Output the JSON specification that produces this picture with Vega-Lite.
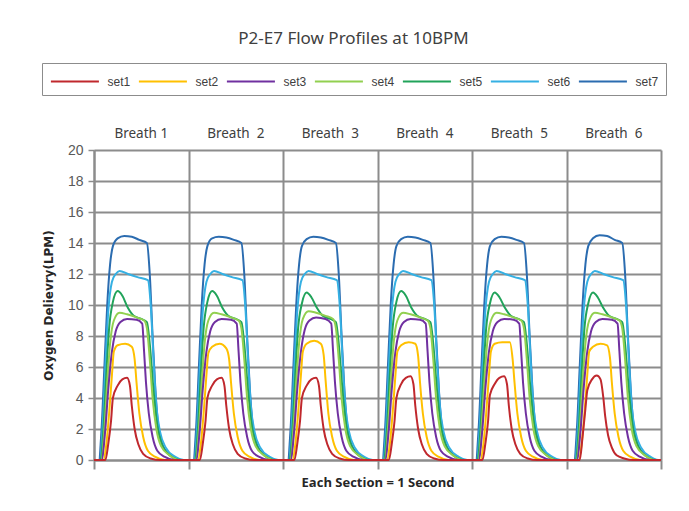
{
  "$schema": "https://vega.github.io/schema/vega-lite/v6.json",
  "width": 567,
  "height": 310,
  "autosize": {"type": "none"},
  "padding": {"left": 94, "top": 150, "right": 28, "bottom": 51},
  "background": "white",
  "config": {"view": {"stroke": null}},
  "title": {
    "text": "P2-E7 Flow Profiles at 10BPM",
    "font": "Noto Sans",
    "fontSize": 17,
    "fontWeight": "normal",
    "color": "#404040",
    "anchor": "middle",
    "dx": -24,
    "offset": 15
  },
  "datasets": {
    "breaths": [
      {"x": 0.5, "label": "Breath 1"},
      {"x": 1.5, "label": "Breath\u00a0 2"},
      {"x": 2.5, "label": "Breath\u00a0 3"},
      {"x": 3.5, "label": "Breath\u00a0 4"},
      {"x": 4.5, "label": "Breath\u00a0 5"},
      {"x": 5.5, "label": "Breath\u00a0 6"}
    ],
    "flow": [
      {"s":"set7","x":0,"v":0},
      {"s":"set7","x":0.05,"v":0},{"s":"set7","x":0.08,"v":2},{"s":"set7","x":0.11,"v":6},{"s":"set7","x":0.14,"v":10},{"s":"set7","x":0.17,"v":12.6},{"s":"set7","x":0.2,"v":13.8},{"s":"set7","x":0.25,"v":14.3},{"s":"set7","x":0.32,"v":14.45},{"s":"set7","x":0.4,"v":14.4},{"s":"set7","x":0.48,"v":14.2},{"s":"set7","x":0.56,"v":14},{"s":"set7","x":0.59,"v":12},{"s":"set7","x":0.62,"v":8},{"s":"set7","x":0.65,"v":4.5},{"s":"set7","x":0.68,"v":2.2},{"s":"set7","x":0.73,"v":0.9},{"s":"set7","x":0.81,"v":0.3},{"s":"set7","x":0.92,"v":0},
      {"s":"set7","x":1.05,"v":0},{"s":"set7","x":1.08,"v":2},{"s":"set7","x":1.11,"v":6},{"s":"set7","x":1.14,"v":10},{"s":"set7","x":1.17,"v":12.6},{"s":"set7","x":1.2,"v":13.8},{"s":"set7","x":1.25,"v":14.3},{"s":"set7","x":1.32,"v":14.4},{"s":"set7","x":1.4,"v":14.35},{"s":"set7","x":1.48,"v":14.2},{"s":"set7","x":1.56,"v":14},{"s":"set7","x":1.59,"v":12},{"s":"set7","x":1.62,"v":8},{"s":"set7","x":1.65,"v":4.5},{"s":"set7","x":1.68,"v":2.2},{"s":"set7","x":1.73,"v":0.9},{"s":"set7","x":1.81,"v":0.3},{"s":"set7","x":1.92,"v":0},
      {"s":"set7","x":2.05,"v":0},{"s":"set7","x":2.08,"v":2},{"s":"set7","x":2.11,"v":6},{"s":"set7","x":2.14,"v":10},{"s":"set7","x":2.17,"v":12.6},{"s":"set7","x":2.2,"v":13.8},{"s":"set7","x":2.25,"v":14.25},{"s":"set7","x":2.32,"v":14.4},{"s":"set7","x":2.4,"v":14.35},{"s":"set7","x":2.48,"v":14.2},{"s":"set7","x":2.56,"v":14},{"s":"set7","x":2.59,"v":12},{"s":"set7","x":2.62,"v":8},{"s":"set7","x":2.65,"v":4.5},{"s":"set7","x":2.68,"v":2.2},{"s":"set7","x":2.73,"v":0.9},{"s":"set7","x":2.81,"v":0.3},{"s":"set7","x":2.92,"v":0},
      {"s":"set7","x":3.05,"v":0},{"s":"set7","x":3.08,"v":2},{"s":"set7","x":3.11,"v":6},{"s":"set7","x":3.14,"v":10},{"s":"set7","x":3.17,"v":12.6},{"s":"set7","x":3.2,"v":13.8},{"s":"set7","x":3.25,"v":14.25},{"s":"set7","x":3.32,"v":14.4},{"s":"set7","x":3.4,"v":14.35},{"s":"set7","x":3.48,"v":14.2},{"s":"set7","x":3.56,"v":14},{"s":"set7","x":3.59,"v":12},{"s":"set7","x":3.62,"v":8},{"s":"set7","x":3.65,"v":4.5},{"s":"set7","x":3.68,"v":2.2},{"s":"set7","x":3.73,"v":0.9},{"s":"set7","x":3.81,"v":0.3},{"s":"set7","x":3.92,"v":0},
      {"s":"set7","x":4.04,"v":0},{"s":"set7","x":4.07,"v":2},{"s":"set7","x":4.1,"v":6},{"s":"set7","x":4.13,"v":10},{"s":"set7","x":4.16,"v":12.6},{"s":"set7","x":4.19,"v":13.8},{"s":"set7","x":4.24,"v":14.25},{"s":"set7","x":4.31,"v":14.4},{"s":"set7","x":4.39,"v":14.35},{"s":"set7","x":4.47,"v":14.2},{"s":"set7","x":4.55,"v":14},{"s":"set7","x":4.58,"v":12},{"s":"set7","x":4.61,"v":8},{"s":"set7","x":4.64,"v":4.5},{"s":"set7","x":4.67,"v":2.2},{"s":"set7","x":4.72,"v":0.9},{"s":"set7","x":4.8,"v":0.3},{"s":"set7","x":4.91,"v":0},
      {"s":"set7","x":5.08,"v":0},{"s":"set7","x":5.11,"v":2},{"s":"set7","x":5.14,"v":6},{"s":"set7","x":5.17,"v":10},{"s":"set7","x":5.2,"v":12.6},{"s":"set7","x":5.23,"v":13.8},{"s":"set7","x":5.28,"v":14.3},{"s":"set7","x":5.35,"v":14.5},{"s":"set7","x":5.43,"v":14.45},{"s":"set7","x":5.51,"v":14.2},{"s":"set7","x":5.59,"v":14},{"s":"set7","x":5.62,"v":12},{"s":"set7","x":5.65,"v":8},{"s":"set7","x":5.68,"v":4.5},{"s":"set7","x":5.71,"v":2.2},{"s":"set7","x":5.76,"v":0.9},{"s":"set7","x":5.84,"v":0.3},{"s":"set7","x":5.95,"v":0},
      {"s":"set7","x":6,"v":0},

      {"s":"set6","x":0,"v":0},
      {"s":"set6","x":0.06,"v":0},{"s":"set6","x":0.09,"v":2},{"s":"set6","x":0.12,"v":6},{"s":"set6","x":0.15,"v":9.5},{"s":"set6","x":0.19,"v":11.5},{"s":"set6","x":0.23,"v":12},{"s":"set6","x":0.27,"v":12.2},{"s":"set6","x":0.36,"v":12},{"s":"set6","x":0.46,"v":11.8},{"s":"set6","x":0.57,"v":11.6},{"s":"set6","x":0.6,"v":10},{"s":"set6","x":0.63,"v":6.5},{"s":"set6","x":0.66,"v":3.5},{"s":"set6","x":0.7,"v":1.8},{"s":"set6","x":0.76,"v":0.8},{"s":"set6","x":0.86,"v":0.2},{"s":"set6","x":0.95,"v":0},
      {"s":"set6","x":1.06,"v":0},{"s":"set6","x":1.09,"v":2},{"s":"set6","x":1.12,"v":6},{"s":"set6","x":1.15,"v":9.5},{"s":"set6","x":1.19,"v":11.5},{"s":"set6","x":1.23,"v":12},{"s":"set6","x":1.27,"v":12.2},{"s":"set6","x":1.36,"v":12},{"s":"set6","x":1.46,"v":11.8},{"s":"set6","x":1.57,"v":11.6},{"s":"set6","x":1.6,"v":10},{"s":"set6","x":1.63,"v":6.5},{"s":"set6","x":1.66,"v":3.5},{"s":"set6","x":1.7,"v":1.8},{"s":"set6","x":1.76,"v":0.8},{"s":"set6","x":1.86,"v":0.2},{"s":"set6","x":1.95,"v":0},
      {"s":"set6","x":2.06,"v":0},{"s":"set6","x":2.09,"v":2},{"s":"set6","x":2.12,"v":6},{"s":"set6","x":2.15,"v":9.5},{"s":"set6","x":2.19,"v":11.5},{"s":"set6","x":2.23,"v":12},{"s":"set6","x":2.27,"v":12.2},{"s":"set6","x":2.36,"v":12},{"s":"set6","x":2.46,"v":11.8},{"s":"set6","x":2.57,"v":11.6},{"s":"set6","x":2.6,"v":10},{"s":"set6","x":2.63,"v":6.5},{"s":"set6","x":2.66,"v":3.5},{"s":"set6","x":2.7,"v":1.8},{"s":"set6","x":2.76,"v":0.8},{"s":"set6","x":2.86,"v":0.2},{"s":"set6","x":2.95,"v":0},
      {"s":"set6","x":3.06,"v":0},{"s":"set6","x":3.09,"v":2},{"s":"set6","x":3.12,"v":6},{"s":"set6","x":3.15,"v":9.5},{"s":"set6","x":3.19,"v":11.5},{"s":"set6","x":3.23,"v":12},{"s":"set6","x":3.27,"v":12.2},{"s":"set6","x":3.36,"v":12},{"s":"set6","x":3.46,"v":11.8},{"s":"set6","x":3.57,"v":11.6},{"s":"set6","x":3.6,"v":10},{"s":"set6","x":3.63,"v":6.5},{"s":"set6","x":3.66,"v":3.5},{"s":"set6","x":3.7,"v":1.8},{"s":"set6","x":3.76,"v":0.8},{"s":"set6","x":3.86,"v":0.2},{"s":"set6","x":3.95,"v":0},
      {"s":"set6","x":4.05,"v":0},{"s":"set6","x":4.08,"v":2},{"s":"set6","x":4.11,"v":6},{"s":"set6","x":4.14,"v":9.5},{"s":"set6","x":4.18,"v":11.5},{"s":"set6","x":4.22,"v":12},{"s":"set6","x":4.26,"v":12.2},{"s":"set6","x":4.35,"v":12},{"s":"set6","x":4.45,"v":11.8},{"s":"set6","x":4.56,"v":11.6},{"s":"set6","x":4.59,"v":10},{"s":"set6","x":4.62,"v":6.5},{"s":"set6","x":4.65,"v":3.5},{"s":"set6","x":4.69,"v":1.8},{"s":"set6","x":4.75,"v":0.8},{"s":"set6","x":4.85,"v":0.2},{"s":"set6","x":4.94,"v":0},
      {"s":"set6","x":5.09,"v":0},{"s":"set6","x":5.12,"v":2},{"s":"set6","x":5.15,"v":6},{"s":"set6","x":5.18,"v":9.5},{"s":"set6","x":5.22,"v":11.5},{"s":"set6","x":5.26,"v":12},{"s":"set6","x":5.3,"v":12.2},{"s":"set6","x":5.39,"v":12},{"s":"set6","x":5.49,"v":11.8},{"s":"set6","x":5.6,"v":11.6},{"s":"set6","x":5.63,"v":10},{"s":"set6","x":5.66,"v":6.5},{"s":"set6","x":5.69,"v":3.5},{"s":"set6","x":5.73,"v":1.8},{"s":"set6","x":5.79,"v":0.8},{"s":"set6","x":5.89,"v":0.2},{"s":"set6","x":5.97,"v":0},
      {"s":"set6","x":6,"v":0},

      {"s":"set5","x":0,"v":0},
      {"s":"set5","x":0.07,"v":0},{"s":"set5","x":0.1,"v":2},{"s":"set5","x":0.13,"v":5.5},{"s":"set5","x":0.16,"v":8.5},{"s":"set5","x":0.2,"v":10.2},{"s":"set5","x":0.25,"v":10.9},{"s":"set5","x":0.3,"v":10.6},{"s":"set5","x":0.36,"v":9.8},{"s":"set5","x":0.42,"v":9.3},{"s":"set5","x":0.5,"v":9.1},{"s":"set5","x":0.56,"v":8.9},{"s":"set5","x":0.59,"v":7.5},{"s":"set5","x":0.63,"v":4.5},{"s":"set5","x":0.67,"v":2.2},{"s":"set5","x":0.72,"v":1},{"s":"set5","x":0.8,"v":0.3},{"s":"set5","x":0.92,"v":0},
      {"s":"set5","x":1.07,"v":0},{"s":"set5","x":1.1,"v":2},{"s":"set5","x":1.13,"v":5.5},{"s":"set5","x":1.16,"v":8.5},{"s":"set5","x":1.2,"v":10.2},{"s":"set5","x":1.25,"v":10.9},{"s":"set5","x":1.3,"v":10.6},{"s":"set5","x":1.36,"v":9.8},{"s":"set5","x":1.42,"v":9.3},{"s":"set5","x":1.5,"v":9.1},{"s":"set5","x":1.56,"v":8.9},{"s":"set5","x":1.59,"v":7.5},{"s":"set5","x":1.63,"v":4.5},{"s":"set5","x":1.67,"v":2.2},{"s":"set5","x":1.72,"v":1},{"s":"set5","x":1.8,"v":0.3},{"s":"set5","x":1.92,"v":0},
      {"s":"set5","x":2.07,"v":0},{"s":"set5","x":2.1,"v":2},{"s":"set5","x":2.13,"v":5.5},{"s":"set5","x":2.16,"v":8.5},{"s":"set5","x":2.2,"v":10.1},{"s":"set5","x":2.25,"v":10.8},{"s":"set5","x":2.3,"v":10.5},{"s":"set5","x":2.36,"v":9.8},{"s":"set5","x":2.42,"v":9.3},{"s":"set5","x":2.5,"v":9.1},{"s":"set5","x":2.56,"v":8.9},{"s":"set5","x":2.59,"v":7.5},{"s":"set5","x":2.63,"v":4.5},{"s":"set5","x":2.67,"v":2.2},{"s":"set5","x":2.72,"v":1},{"s":"set5","x":2.8,"v":0.3},{"s":"set5","x":2.92,"v":0},
      {"s":"set5","x":3.07,"v":0},{"s":"set5","x":3.1,"v":2},{"s":"set5","x":3.13,"v":5.5},{"s":"set5","x":3.16,"v":8.5},{"s":"set5","x":3.2,"v":10.2},{"s":"set5","x":3.25,"v":10.9},{"s":"set5","x":3.3,"v":10.6},{"s":"set5","x":3.36,"v":9.8},{"s":"set5","x":3.42,"v":9.3},{"s":"set5","x":3.5,"v":9.1},{"s":"set5","x":3.56,"v":8.9},{"s":"set5","x":3.59,"v":7.5},{"s":"set5","x":3.63,"v":4.5},{"s":"set5","x":3.67,"v":2.2},{"s":"set5","x":3.72,"v":1},{"s":"set5","x":3.8,"v":0.3},{"s":"set5","x":3.92,"v":0},
      {"s":"set5","x":4.06,"v":0},{"s":"set5","x":4.09,"v":2},{"s":"set5","x":4.12,"v":5.5},{"s":"set5","x":4.15,"v":8.5},{"s":"set5","x":4.19,"v":10.1},{"s":"set5","x":4.24,"v":10.8},{"s":"set5","x":4.29,"v":10.5},{"s":"set5","x":4.35,"v":9.8},{"s":"set5","x":4.41,"v":9.3},{"s":"set5","x":4.49,"v":9.1},{"s":"set5","x":4.55,"v":8.9},{"s":"set5","x":4.58,"v":7.5},{"s":"set5","x":4.62,"v":4.5},{"s":"set5","x":4.66,"v":2.2},{"s":"set5","x":4.71,"v":1},{"s":"set5","x":4.79,"v":0.3},{"s":"set5","x":4.91,"v":0},
      {"s":"set5","x":5.1,"v":0},{"s":"set5","x":5.13,"v":2},{"s":"set5","x":5.16,"v":5.5},{"s":"set5","x":5.19,"v":8.5},{"s":"set5","x":5.23,"v":10.1},{"s":"set5","x":5.28,"v":10.8},{"s":"set5","x":5.33,"v":10.5},{"s":"set5","x":5.39,"v":9.8},{"s":"set5","x":5.45,"v":9.3},{"s":"set5","x":5.53,"v":9.1},{"s":"set5","x":5.59,"v":8.9},{"s":"set5","x":5.62,"v":7.5},{"s":"set5","x":5.66,"v":4.5},{"s":"set5","x":5.7,"v":2.2},{"s":"set5","x":5.75,"v":1},{"s":"set5","x":5.83,"v":0.3},{"s":"set5","x":5.95,"v":0},
      {"s":"set5","x":6,"v":0},

      {"s":"set4","x":0,"v":0},
      {"s":"set4","x":0.08,"v":0},{"s":"set4","x":0.11,"v":2},{"s":"set4","x":0.14,"v":5},{"s":"set4","x":0.17,"v":7.5},{"s":"set4","x":0.21,"v":9},{"s":"set4","x":0.27,"v":9.5},{"s":"set4","x":0.35,"v":9.4},{"s":"set4","x":0.45,"v":9.2},{"s":"set4","x":0.53,"v":9},{"s":"set4","x":0.56,"v":8.5},{"s":"set4","x":0.59,"v":6.5},{"s":"set4","x":0.62,"v":4},{"s":"set4","x":0.66,"v":2},{"s":"set4","x":0.71,"v":0.9},{"s":"set4","x":0.8,"v":0.3},{"s":"set4","x":0.9,"v":0},
      {"s":"set4","x":1.08,"v":0},{"s":"set4","x":1.11,"v":2},{"s":"set4","x":1.14,"v":5},{"s":"set4","x":1.17,"v":7.5},{"s":"set4","x":1.21,"v":9},{"s":"set4","x":1.27,"v":9.5},{"s":"set4","x":1.35,"v":9.4},{"s":"set4","x":1.45,"v":9.2},{"s":"set4","x":1.53,"v":9},{"s":"set4","x":1.56,"v":8.5},{"s":"set4","x":1.59,"v":6.5},{"s":"set4","x":1.62,"v":4},{"s":"set4","x":1.66,"v":2},{"s":"set4","x":1.71,"v":0.9},{"s":"set4","x":1.8,"v":0.3},{"s":"set4","x":1.9,"v":0},
      {"s":"set4","x":2.08,"v":0},{"s":"set4","x":2.11,"v":2},{"s":"set4","x":2.14,"v":5},{"s":"set4","x":2.17,"v":7.5},{"s":"set4","x":2.21,"v":9.1},{"s":"set4","x":2.27,"v":9.6},{"s":"set4","x":2.35,"v":9.5},{"s":"set4","x":2.45,"v":9.3},{"s":"set4","x":2.53,"v":9.1},{"s":"set4","x":2.56,"v":8.5},{"s":"set4","x":2.59,"v":6.5},{"s":"set4","x":2.62,"v":4},{"s":"set4","x":2.66,"v":2},{"s":"set4","x":2.71,"v":0.9},{"s":"set4","x":2.8,"v":0.3},{"s":"set4","x":2.9,"v":0},
      {"s":"set4","x":3.08,"v":0},{"s":"set4","x":3.11,"v":2},{"s":"set4","x":3.14,"v":5},{"s":"set4","x":3.17,"v":7.5},{"s":"set4","x":3.21,"v":9},{"s":"set4","x":3.27,"v":9.5},{"s":"set4","x":3.35,"v":9.4},{"s":"set4","x":3.45,"v":9.2},{"s":"set4","x":3.53,"v":9},{"s":"set4","x":3.56,"v":8.5},{"s":"set4","x":3.59,"v":6.5},{"s":"set4","x":3.62,"v":4},{"s":"set4","x":3.66,"v":2},{"s":"set4","x":3.71,"v":0.9},{"s":"set4","x":3.8,"v":0.3},{"s":"set4","x":3.9,"v":0},
      {"s":"set4","x":4.07,"v":0},{"s":"set4","x":4.1,"v":2},{"s":"set4","x":4.13,"v":5},{"s":"set4","x":4.16,"v":7.5},{"s":"set4","x":4.2,"v":9},{"s":"set4","x":4.26,"v":9.5},{"s":"set4","x":4.34,"v":9.4},{"s":"set4","x":4.44,"v":9.2},{"s":"set4","x":4.52,"v":9},{"s":"set4","x":4.55,"v":8.5},{"s":"set4","x":4.58,"v":6.5},{"s":"set4","x":4.61,"v":4},{"s":"set4","x":4.65,"v":2},{"s":"set4","x":4.7,"v":0.9},{"s":"set4","x":4.79,"v":0.3},{"s":"set4","x":4.89,"v":0},
      {"s":"set4","x":5.11,"v":0},{"s":"set4","x":5.14,"v":2},{"s":"set4","x":5.17,"v":5},{"s":"set4","x":5.2,"v":7.5},{"s":"set4","x":5.24,"v":9},{"s":"set4","x":5.3,"v":9.5},{"s":"set4","x":5.38,"v":9.4},{"s":"set4","x":5.48,"v":9.2},{"s":"set4","x":5.56,"v":9},{"s":"set4","x":5.59,"v":8.5},{"s":"set4","x":5.62,"v":6.5},{"s":"set4","x":5.65,"v":4},{"s":"set4","x":5.69,"v":2},{"s":"set4","x":5.74,"v":0.9},{"s":"set4","x":5.83,"v":0.3},{"s":"set4","x":5.93,"v":0},
      {"s":"set4","x":6,"v":0},

      {"s":"set3","x":0,"v":0},
      {"s":"set3","x":0.08,"v":0},{"s":"set3","x":0.12,"v":2},{"s":"set3","x":0.15,"v":4.5},{"s":"set3","x":0.19,"v":7},{"s":"set3","x":0.23,"v":8.3},{"s":"set3","x":0.28,"v":8.9},{"s":"set3","x":0.35,"v":9.1},{"s":"set3","x":0.45,"v":9.05},{"s":"set3","x":0.51,"v":8.8},{"s":"set3","x":0.53,"v":7},{"s":"set3","x":0.55,"v":5},{"s":"set3","x":0.58,"v":3},{"s":"set3","x":0.62,"v":1.5},{"s":"set3","x":0.67,"v":0.6},{"s":"set3","x":0.75,"v":0.2},{"s":"set3","x":0.85,"v":0},
      {"s":"set3","x":1.08,"v":0},{"s":"set3","x":1.12,"v":2},{"s":"set3","x":1.15,"v":4.5},{"s":"set3","x":1.19,"v":7},{"s":"set3","x":1.23,"v":8.3},{"s":"set3","x":1.28,"v":8.9},{"s":"set3","x":1.35,"v":9.1},{"s":"set3","x":1.45,"v":9.05},{"s":"set3","x":1.51,"v":8.8},{"s":"set3","x":1.53,"v":7},{"s":"set3","x":1.55,"v":5},{"s":"set3","x":1.58,"v":3},{"s":"set3","x":1.62,"v":1.5},{"s":"set3","x":1.67,"v":0.6},{"s":"set3","x":1.75,"v":0.2},{"s":"set3","x":1.85,"v":0},
      {"s":"set3","x":2.08,"v":0},{"s":"set3","x":2.12,"v":2},{"s":"set3","x":2.15,"v":4.5},{"s":"set3","x":2.19,"v":7},{"s":"set3","x":2.23,"v":8.4},{"s":"set3","x":2.28,"v":9},{"s":"set3","x":2.35,"v":9.2},{"s":"set3","x":2.45,"v":9.1},{"s":"set3","x":2.51,"v":8.8},{"s":"set3","x":2.53,"v":7},{"s":"set3","x":2.55,"v":5},{"s":"set3","x":2.58,"v":3},{"s":"set3","x":2.62,"v":1.5},{"s":"set3","x":2.67,"v":0.6},{"s":"set3","x":2.75,"v":0.2},{"s":"set3","x":2.85,"v":0},
      {"s":"set3","x":3.08,"v":0},{"s":"set3","x":3.12,"v":2},{"s":"set3","x":3.15,"v":4.5},{"s":"set3","x":3.19,"v":7},{"s":"set3","x":3.23,"v":8.3},{"s":"set3","x":3.28,"v":8.9},{"s":"set3","x":3.35,"v":9.1},{"s":"set3","x":3.45,"v":9.05},{"s":"set3","x":3.51,"v":8.8},{"s":"set3","x":3.53,"v":7},{"s":"set3","x":3.55,"v":5},{"s":"set3","x":3.58,"v":3},{"s":"set3","x":3.62,"v":1.5},{"s":"set3","x":3.67,"v":0.6},{"s":"set3","x":3.75,"v":0.2},{"s":"set3","x":3.85,"v":0},
      {"s":"set3","x":4.07,"v":0},{"s":"set3","x":4.11,"v":2},{"s":"set3","x":4.14,"v":4.5},{"s":"set3","x":4.18,"v":7},{"s":"set3","x":4.22,"v":8.3},{"s":"set3","x":4.27,"v":8.9},{"s":"set3","x":4.34,"v":9.1},{"s":"set3","x":4.44,"v":9.05},{"s":"set3","x":4.5,"v":8.8},{"s":"set3","x":4.52,"v":7},{"s":"set3","x":4.54,"v":5},{"s":"set3","x":4.57,"v":3},{"s":"set3","x":4.61,"v":1.5},{"s":"set3","x":4.66,"v":0.6},{"s":"set3","x":4.74,"v":0.2},{"s":"set3","x":4.84,"v":0},
      {"s":"set3","x":5.11,"v":0},{"s":"set3","x":5.15,"v":2},{"s":"set3","x":5.18,"v":4.5},{"s":"set3","x":5.22,"v":7},{"s":"set3","x":5.26,"v":8.3},{"s":"set3","x":5.31,"v":8.9},{"s":"set3","x":5.38,"v":9.1},{"s":"set3","x":5.48,"v":9.05},{"s":"set3","x":5.54,"v":8.8},{"s":"set3","x":5.56,"v":7},{"s":"set3","x":5.58,"v":5},{"s":"set3","x":5.61,"v":3},{"s":"set3","x":5.65,"v":1.5},{"s":"set3","x":5.7,"v":0.6},{"s":"set3","x":5.78,"v":0.2},{"s":"set3","x":5.88,"v":0},
      {"s":"set3","x":6,"v":0},

      {"s":"set2","x":0,"v":0},
      {"s":"set2","x":0.1,"v":0},{"s":"set2","x":0.13,"v":1},{"s":"set2","x":0.16,"v":3},{"s":"set2","x":0.19,"v":5.5},{"s":"set2","x":0.21,"v":7},{"s":"set2","x":0.25,"v":7.4},{"s":"set2","x":0.33,"v":7.5},{"s":"set2","x":0.4,"v":7.3},{"s":"set2","x":0.43,"v":6.5},{"s":"set2","x":0.45,"v":5},{"s":"set2","x":0.48,"v":3},{"s":"set2","x":0.52,"v":1.5},{"s":"set2","x":0.57,"v":0.6},{"s":"set2","x":0.65,"v":0.2},{"s":"set2","x":0.75,"v":0},
      {"s":"set2","x":1.1,"v":0},{"s":"set2","x":1.13,"v":1},{"s":"set2","x":1.16,"v":3},{"s":"set2","x":1.19,"v":5.5},{"s":"set2","x":1.21,"v":6.9},{"s":"set2","x":1.25,"v":7.3},{"s":"set2","x":1.33,"v":7.5},{"s":"set2","x":1.4,"v":7.2},{"s":"set2","x":1.43,"v":6.5},{"s":"set2","x":1.45,"v":5},{"s":"set2","x":1.48,"v":3},{"s":"set2","x":1.52,"v":1.5},{"s":"set2","x":1.57,"v":0.6},{"s":"set2","x":1.65,"v":0.2},{"s":"set2","x":1.75,"v":0},
      {"s":"set2","x":2.1,"v":0},{"s":"set2","x":2.13,"v":1},{"s":"set2","x":2.16,"v":3},{"s":"set2","x":2.19,"v":5.5},{"s":"set2","x":2.21,"v":7},{"s":"set2","x":2.25,"v":7.5},{"s":"set2","x":2.33,"v":7.7},{"s":"set2","x":2.4,"v":7.5},{"s":"set2","x":2.43,"v":6.8},{"s":"set2","x":2.45,"v":5.2},{"s":"set2","x":2.48,"v":3},{"s":"set2","x":2.52,"v":1.5},{"s":"set2","x":2.57,"v":0.6},{"s":"set2","x":2.65,"v":0.2},{"s":"set2","x":2.75,"v":0},
      {"s":"set2","x":3.1,"v":0},{"s":"set2","x":3.13,"v":1},{"s":"set2","x":3.16,"v":3},{"s":"set2","x":3.19,"v":5.5},{"s":"set2","x":3.21,"v":7},{"s":"set2","x":3.25,"v":7.4},{"s":"set2","x":3.33,"v":7.6},{"s":"set2","x":3.4,"v":7.5},{"s":"set2","x":3.43,"v":6.7},{"s":"set2","x":3.45,"v":5},{"s":"set2","x":3.48,"v":3},{"s":"set2","x":3.52,"v":1.5},{"s":"set2","x":3.57,"v":0.6},{"s":"set2","x":3.65,"v":0.2},{"s":"set2","x":3.75,"v":0},
      {"s":"set2","x":4.09,"v":0},{"s":"set2","x":4.12,"v":1},{"s":"set2","x":4.15,"v":3},{"s":"set2","x":4.18,"v":5.5},{"s":"set2","x":4.2,"v":7},{"s":"set2","x":4.24,"v":7.5},{"s":"set2","x":4.32,"v":7.6},{"s":"set2","x":4.4,"v":7.6},{"s":"set2","x":4.43,"v":6.5},{"s":"set2","x":4.45,"v":5},{"s":"set2","x":4.48,"v":3},{"s":"set2","x":4.52,"v":1.5},{"s":"set2","x":4.57,"v":0.6},{"s":"set2","x":4.65,"v":0.2},{"s":"set2","x":4.75,"v":0},
      {"s":"set2","x":5.13,"v":0},{"s":"set2","x":5.16,"v":1},{"s":"set2","x":5.19,"v":3},{"s":"set2","x":5.22,"v":5.5},{"s":"set2","x":5.24,"v":7},{"s":"set2","x":5.28,"v":7.3},{"s":"set2","x":5.36,"v":7.5},{"s":"set2","x":5.43,"v":7.4},{"s":"set2","x":5.46,"v":6.6},{"s":"set2","x":5.48,"v":5},{"s":"set2","x":5.51,"v":3},{"s":"set2","x":5.55,"v":1.5},{"s":"set2","x":5.6,"v":0.6},{"s":"set2","x":5.68,"v":0.2},{"s":"set2","x":5.78,"v":0},
      {"s":"set2","x":6,"v":0},

      {"s":"set1","x":0,"v":0},
      {"s":"set1","x":0.12,"v":0},{"s":"set1","x":0.15,"v":1},{"s":"set1","x":0.18,"v":2.5},{"s":"set1","x":0.2,"v":4},{"s":"set1","x":0.25,"v":4.8},{"s":"set1","x":0.3,"v":5.2},{"s":"set1","x":0.35,"v":5.3},{"s":"set1","x":0.38,"v":4.8},{"s":"set1","x":0.4,"v":3.5},{"s":"set1","x":0.43,"v":2},{"s":"set1","x":0.47,"v":1},{"s":"set1","x":0.52,"v":0.4},{"s":"set1","x":0.6,"v":0.1},{"s":"set1","x":0.7,"v":0},
      {"s":"set1","x":1.12,"v":0},{"s":"set1","x":1.15,"v":1},{"s":"set1","x":1.18,"v":2.5},{"s":"set1","x":1.2,"v":4},{"s":"set1","x":1.25,"v":4.8},{"s":"set1","x":1.3,"v":5.2},{"s":"set1","x":1.35,"v":5.3},{"s":"set1","x":1.38,"v":4.8},{"s":"set1","x":1.4,"v":3.5},{"s":"set1","x":1.43,"v":2},{"s":"set1","x":1.47,"v":1},{"s":"set1","x":1.52,"v":0.4},{"s":"set1","x":1.6,"v":0.1},{"s":"set1","x":1.7,"v":0},
      {"s":"set1","x":2.12,"v":0},{"s":"set1","x":2.15,"v":1},{"s":"set1","x":2.18,"v":2.5},{"s":"set1","x":2.2,"v":4},{"s":"set1","x":2.25,"v":4.8},{"s":"set1","x":2.3,"v":5.2},{"s":"set1","x":2.35,"v":5.3},{"s":"set1","x":2.38,"v":4.8},{"s":"set1","x":2.4,"v":3.5},{"s":"set1","x":2.43,"v":2},{"s":"set1","x":2.47,"v":1},{"s":"set1","x":2.52,"v":0.4},{"s":"set1","x":2.6,"v":0.1},{"s":"set1","x":2.7,"v":0},
      {"s":"set1","x":3.12,"v":0},{"s":"set1","x":3.15,"v":1},{"s":"set1","x":3.18,"v":2.5},{"s":"set1","x":3.2,"v":4},{"s":"set1","x":3.25,"v":4.9},{"s":"set1","x":3.3,"v":5.3},{"s":"set1","x":3.35,"v":5.4},{"s":"set1","x":3.38,"v":4.9},{"s":"set1","x":3.4,"v":3.5},{"s":"set1","x":3.43,"v":2},{"s":"set1","x":3.47,"v":1},{"s":"set1","x":3.52,"v":0.4},{"s":"set1","x":3.6,"v":0.1},{"s":"set1","x":3.7,"v":0},
      {"s":"set1","x":4.11,"v":0},{"s":"set1","x":4.14,"v":1},{"s":"set1","x":4.17,"v":2.5},{"s":"set1","x":4.19,"v":4.2},{"s":"set1","x":4.24,"v":4.9},{"s":"set1","x":4.29,"v":5.3},{"s":"set1","x":4.34,"v":5.4},{"s":"set1","x":4.37,"v":4.9},{"s":"set1","x":4.39,"v":3.5},{"s":"set1","x":4.42,"v":2},{"s":"set1","x":4.46,"v":1},{"s":"set1","x":4.51,"v":0.4},{"s":"set1","x":4.59,"v":0.1},{"s":"set1","x":4.69,"v":0},
      {"s":"set1","x":5.14,"v":0},{"s":"set1","x":5.17,"v":1.5},{"s":"set1","x":5.2,"v":3.3},{"s":"set1","x":5.22,"v":4.5},{"s":"set1","x":5.27,"v":5.2},{"s":"set1","x":5.32,"v":5.45},{"s":"set1","x":5.36,"v":5.2},{"s":"set1","x":5.39,"v":4},{"s":"set1","x":5.41,"v":2.8},{"s":"set1","x":5.44,"v":1.6},{"s":"set1","x":5.48,"v":0.8},{"s":"set1","x":5.53,"v":0.3},{"s":"set1","x":5.61,"v":0.1},{"s":"set1","x":5.71,"v":0},
      {"s":"set1","x":6,"v":0}
    ]
  },
  "encoding": {
    "x": {
      "field": "x",
      "type": "quantitative",
      "scale": {"domain": [0, 6], "nice": false, "zero": false},
      "axis": {
        "values": [0, 1, 2, 3, 4, 5, 6],
        "labels": false,
        "grid": true,
        "gridColor": "#8c8c8c",
        "gridWidth": 2,
        "domainColor": "#8c8c8c",
        "domainWidth": 2,
        "tickColor": "#8c8c8c",
        "tickWidth": 2,
        "tickSize": 9,
        "title": "Each Section = 1 Second",
        "titleFont": "Open Sans",
        "titleFontSize": 13,
        "titleFontWeight": "bold",
        "titleColor": "#262626",
        "titlePadding": 6
      }
    }
  },
  "layer": [
    {
      "data": {"name": "flow"},
      "mark": {"type": "line", "strokeWidth": 2, "interpolate": "monotone"},
      "encoding": {
        "y": {
          "field": "v",
          "type": "quantitative",
          "scale": {"domain": [0, 20], "nice": false},
          "axis": {
            "values": [0, 2, 4, 6, 8, 10, 12, 14, 16, 18, 20],
            "labelOverlap": false,
            "grid": true,
            "gridColor": "#8c8c8c",
            "gridWidth": 2,
            "domainColor": "#8c8c8c",
            "domainWidth": 2,
            "tickColor": "#8c8c8c",
            "tickWidth": 1.5,
            "tickSize": 6,
            "labelFont": "Liberation Sans",
            "labelFontSize": 14,
            "labelColor": "#595959",
            "labelPadding": 5,
            "title": "Oxygen Delievry(LPM)",
            "titleFont": "DejaVu Sans",
            "titleFontSize": 12,
            "titleFontWeight": "bold",
            "titleColor": "#262626",
            "titlePadding": 12
          }
        },
        "color": {
          "field": "s",
          "type": "nominal",
          "scale": {
            "domain": ["set1", "set2", "set3", "set4", "set5", "set6", "set7"],
            "range": ["#C0282D", "#FFC000", "#7030A0", "#92D050", "#21A35A", "#35B0E3", "#2B6CB0"]
          },
          "legend": {
            "orient": "none",
            "legendX": -52,
            "legendY": -87,
            "direction": "horizontal",
            "columns": 7,
            "title": null,
            "symbolType": "M-1,0H4",
            "symbolSize": 369,
            "symbolStrokeWidth": 2,
            "symbolFillColor": "transparent",
            "labelFont": "Liberation Sans",
            "labelFontSize": 12,
            "labelColor": "#404040",
            "labelOffset": 36,
            "columnPadding": 4,
            "padding": 7.5,
            "strokeColor": "#8c8c8c",
            "fillColor": "white"
          }
        }
      }
    },
    {
      "data": {"name": "breaths"},
      "mark": {
        "type": "text",
        "font": "Noto Sans",
        "fontSize": 13.5,
        "color": "#404040",
        "baseline": "alphabetic",
        "dy": -12
      },
      "encoding": {
        "y": {
          "datum": 20,
          "type": "quantitative",
          "axis": {
            "values": [0, 2, 4, 6, 8, 10, 12, 14, 16, 18, 20],
            "labelOverlap": false,
            "grid": true,
            "gridColor": "#8c8c8c",
            "gridWidth": 2,
            "domainColor": "#8c8c8c",
            "domainWidth": 2,
            "tickColor": "#8c8c8c",
            "tickWidth": 1.5,
            "tickSize": 6,
            "labelFont": "Liberation Sans",
            "labelFontSize": 14,
            "labelColor": "#595959",
            "labelPadding": 5,
            "title": "Oxygen Delievry(LPM)",
            "titleFont": "DejaVu Sans",
            "titleFontSize": 12,
            "titleFontWeight": "bold",
            "titleColor": "#262626",
            "titlePadding": 12
          }
        },
        "text": {"field": "label"}
      }
    }
  ]
}
